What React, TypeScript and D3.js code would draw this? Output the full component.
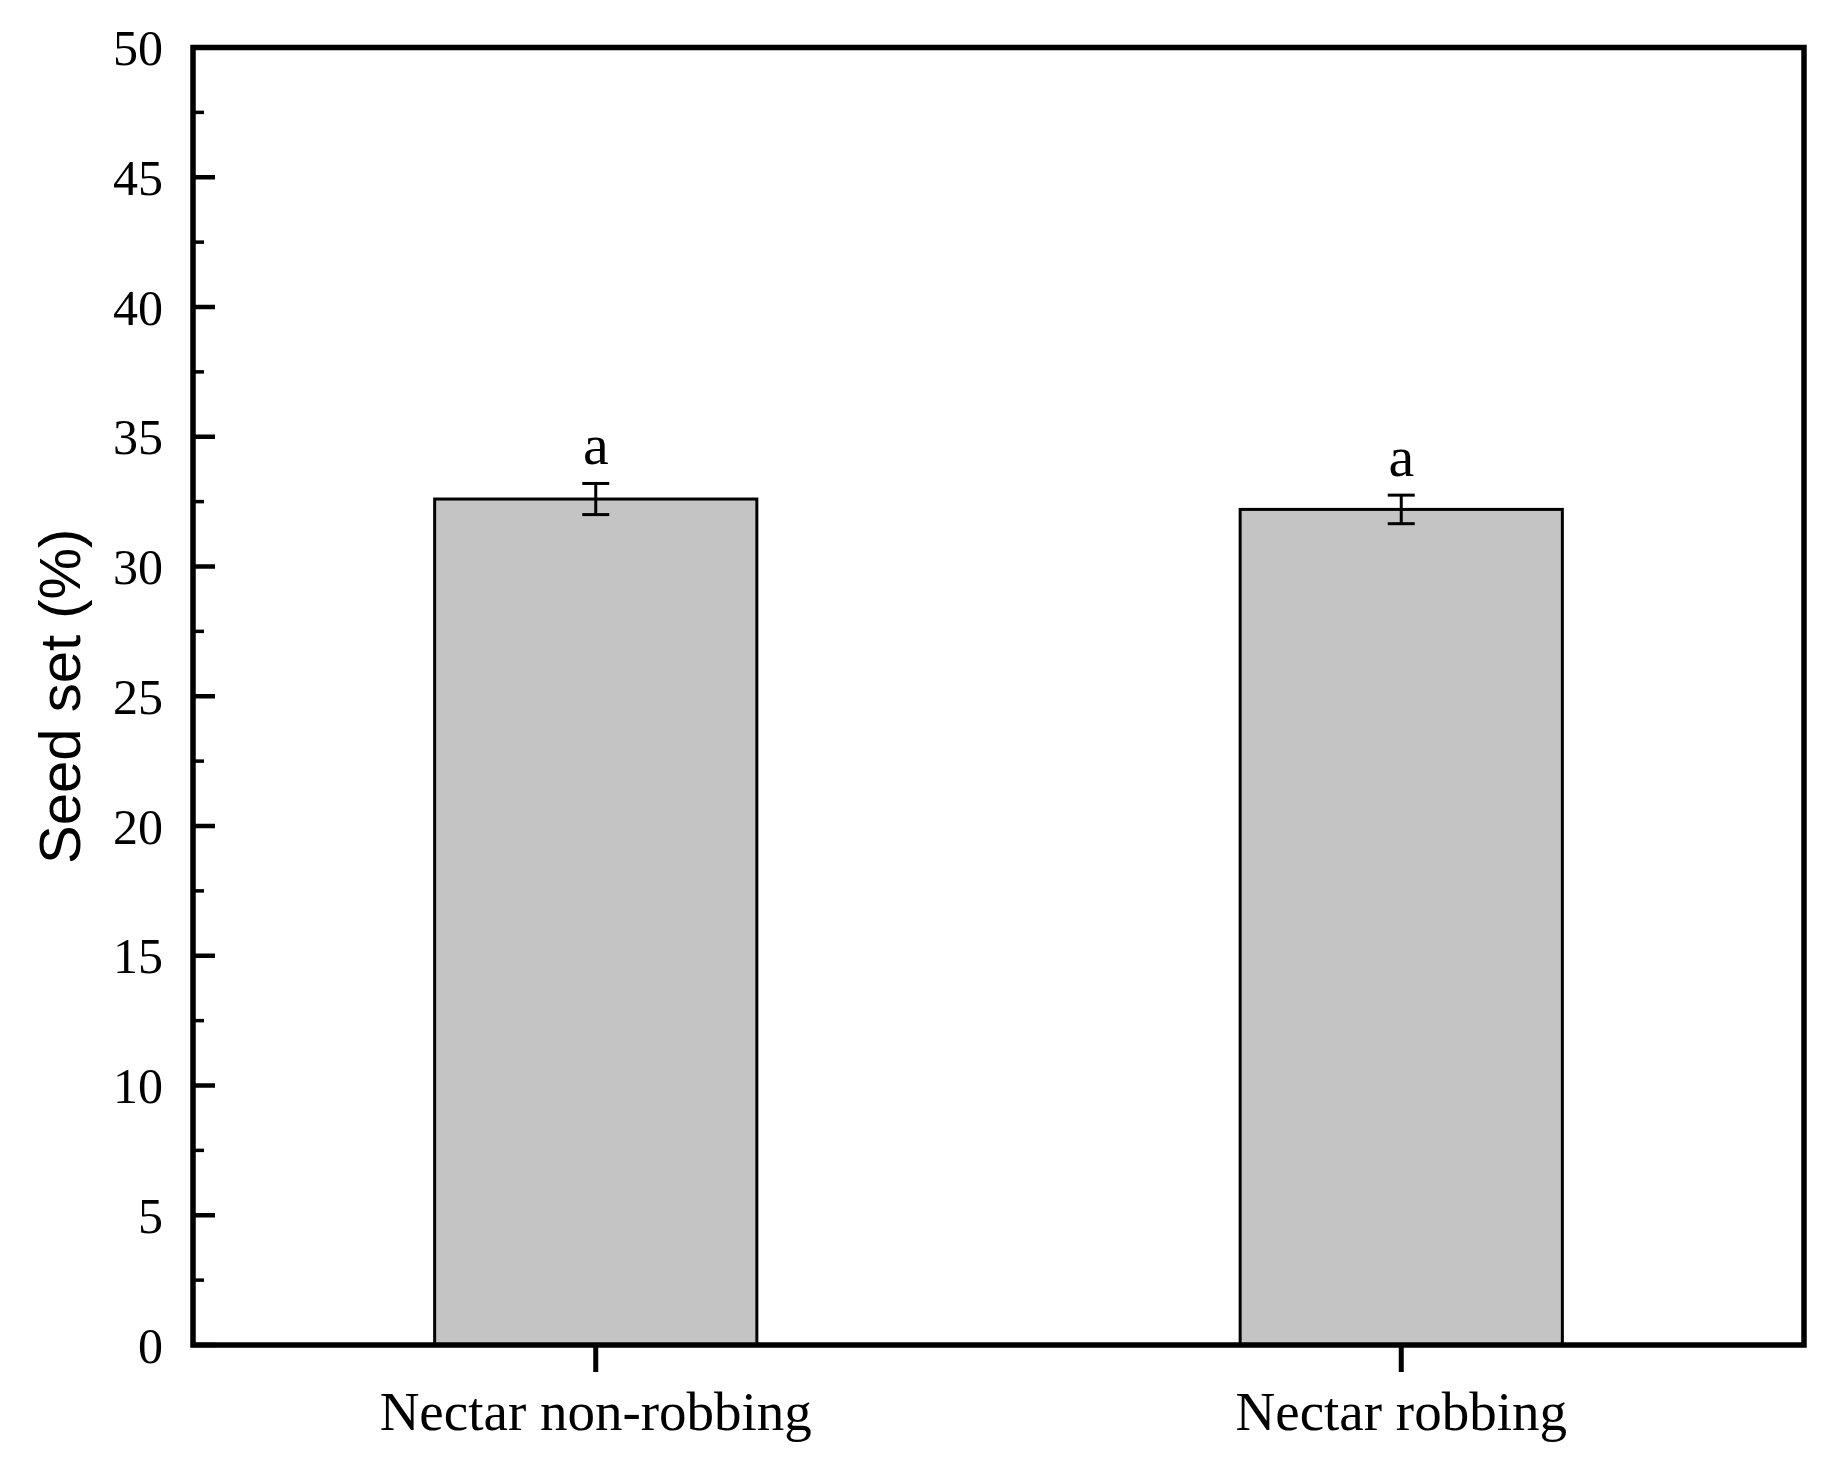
import React from "react";
import * as d3 from "d3";

const categories = ["Nectar non-robbing", "Nectar robbing"];
const values = [32.6, 32.2];
const errors = [0.6, 0.55];
const letters = ["a", "a"];
const yTicks = [0, 5, 10, 15, 20, 25, 30, 35, 40, 45, 50];
const yMinorTicks = [2.5, 7.5, 12.5, 17.5, 22.5, 27.5, 32.5, 37.5, 42.5, 47.5];
const yLabel = "Seed set (%)";

const W = 1839;
const H = 1470;
const left = 193;
const right = 1804;
const top = 47.5;
const bottom = 1345;

export default function App() {
  const x = d3.scaleBand<string>().domain(categories).range([left, right]).paddingInner(0.6).paddingOuter(0.3);
  const y = d3.scaleLinear().domain([0, 50]).range([bottom, top]);
  const serif = "'Liberation Serif', 'Times New Roman', serif";
  return (
    <svg width={W} height={H} style={{ position: "absolute", left: 0, top: 0, background: "#fff" }}>
      <rect x={0} y={0} width={W} height={H} fill="#fff" />
      {categories.map((c, i) => {
        const bx = x(c)!;
        const bw = x.bandwidth();
        const cx = bx + bw / 2;
        const v = values[i];
        const e = errors[i];
        return (
          <g key={c}>
            <rect x={bx} y={y(v)} width={bw} height={y(0) - y(v)} fill="#c4c4c4" stroke="#000" strokeWidth={3} />
            <line x1={cx} x2={cx} y1={y(v + e)} y2={y(v - e)} stroke="#000" strokeWidth={3} />
            <line x1={cx - 13.5} x2={cx + 13.5} y1={y(v + e)} y2={y(v + e)} stroke="#000" strokeWidth={3} />
            <line x1={cx - 13.5} x2={cx + 13.5} y1={y(v - e)} y2={y(v - e)} stroke="#000" strokeWidth={3} />
            <text x={cx} y={y(v + e) - 19} textAnchor="middle" fontFamily={serif} fontSize={58} fill="#000">
              {letters[i]}
            </text>
            <line x1={cx} x2={cx} y1={bottom} y2={bottom + 27} stroke="#000" strokeWidth={5} />
            <text x={cx} y={1430} textAnchor="middle" fontFamily={serif} fontSize={55} fill="#000">
              {c}
            </text>
          </g>
        );
      })}
      {yTicks.map((t) => (
        <g key={"t" + t}>
          <line x1={left} x2={left + 22} y1={y(t)} y2={y(t)} stroke="#000" strokeWidth={4.5} />
          <text x={163} y={y(t)} dy="0.35em" textAnchor="end" fontFamily={serif} fontSize={50} fill="#000">
            {t}
          </text>
        </g>
      ))}
      {yMinorTicks.map((t) => (
        <line key={"m" + t} x1={left} x2={left + 11} y1={y(t)} y2={y(t)} stroke="#000" strokeWidth={3.5} />
      ))}
      <rect x={left} y={top} width={right - left} height={bottom - top} fill="none" stroke="#000" strokeWidth={5.5} />
      <text
        transform={`translate(80, ${(top + bottom) / 2}) rotate(-90)`}
        textAnchor="middle"
        fontFamily="'Liberation Sans', Arial, sans-serif"
        fontSize={58}
        fill="#000"
      >
        {yLabel}
      </text>
    </svg>
  );
}
